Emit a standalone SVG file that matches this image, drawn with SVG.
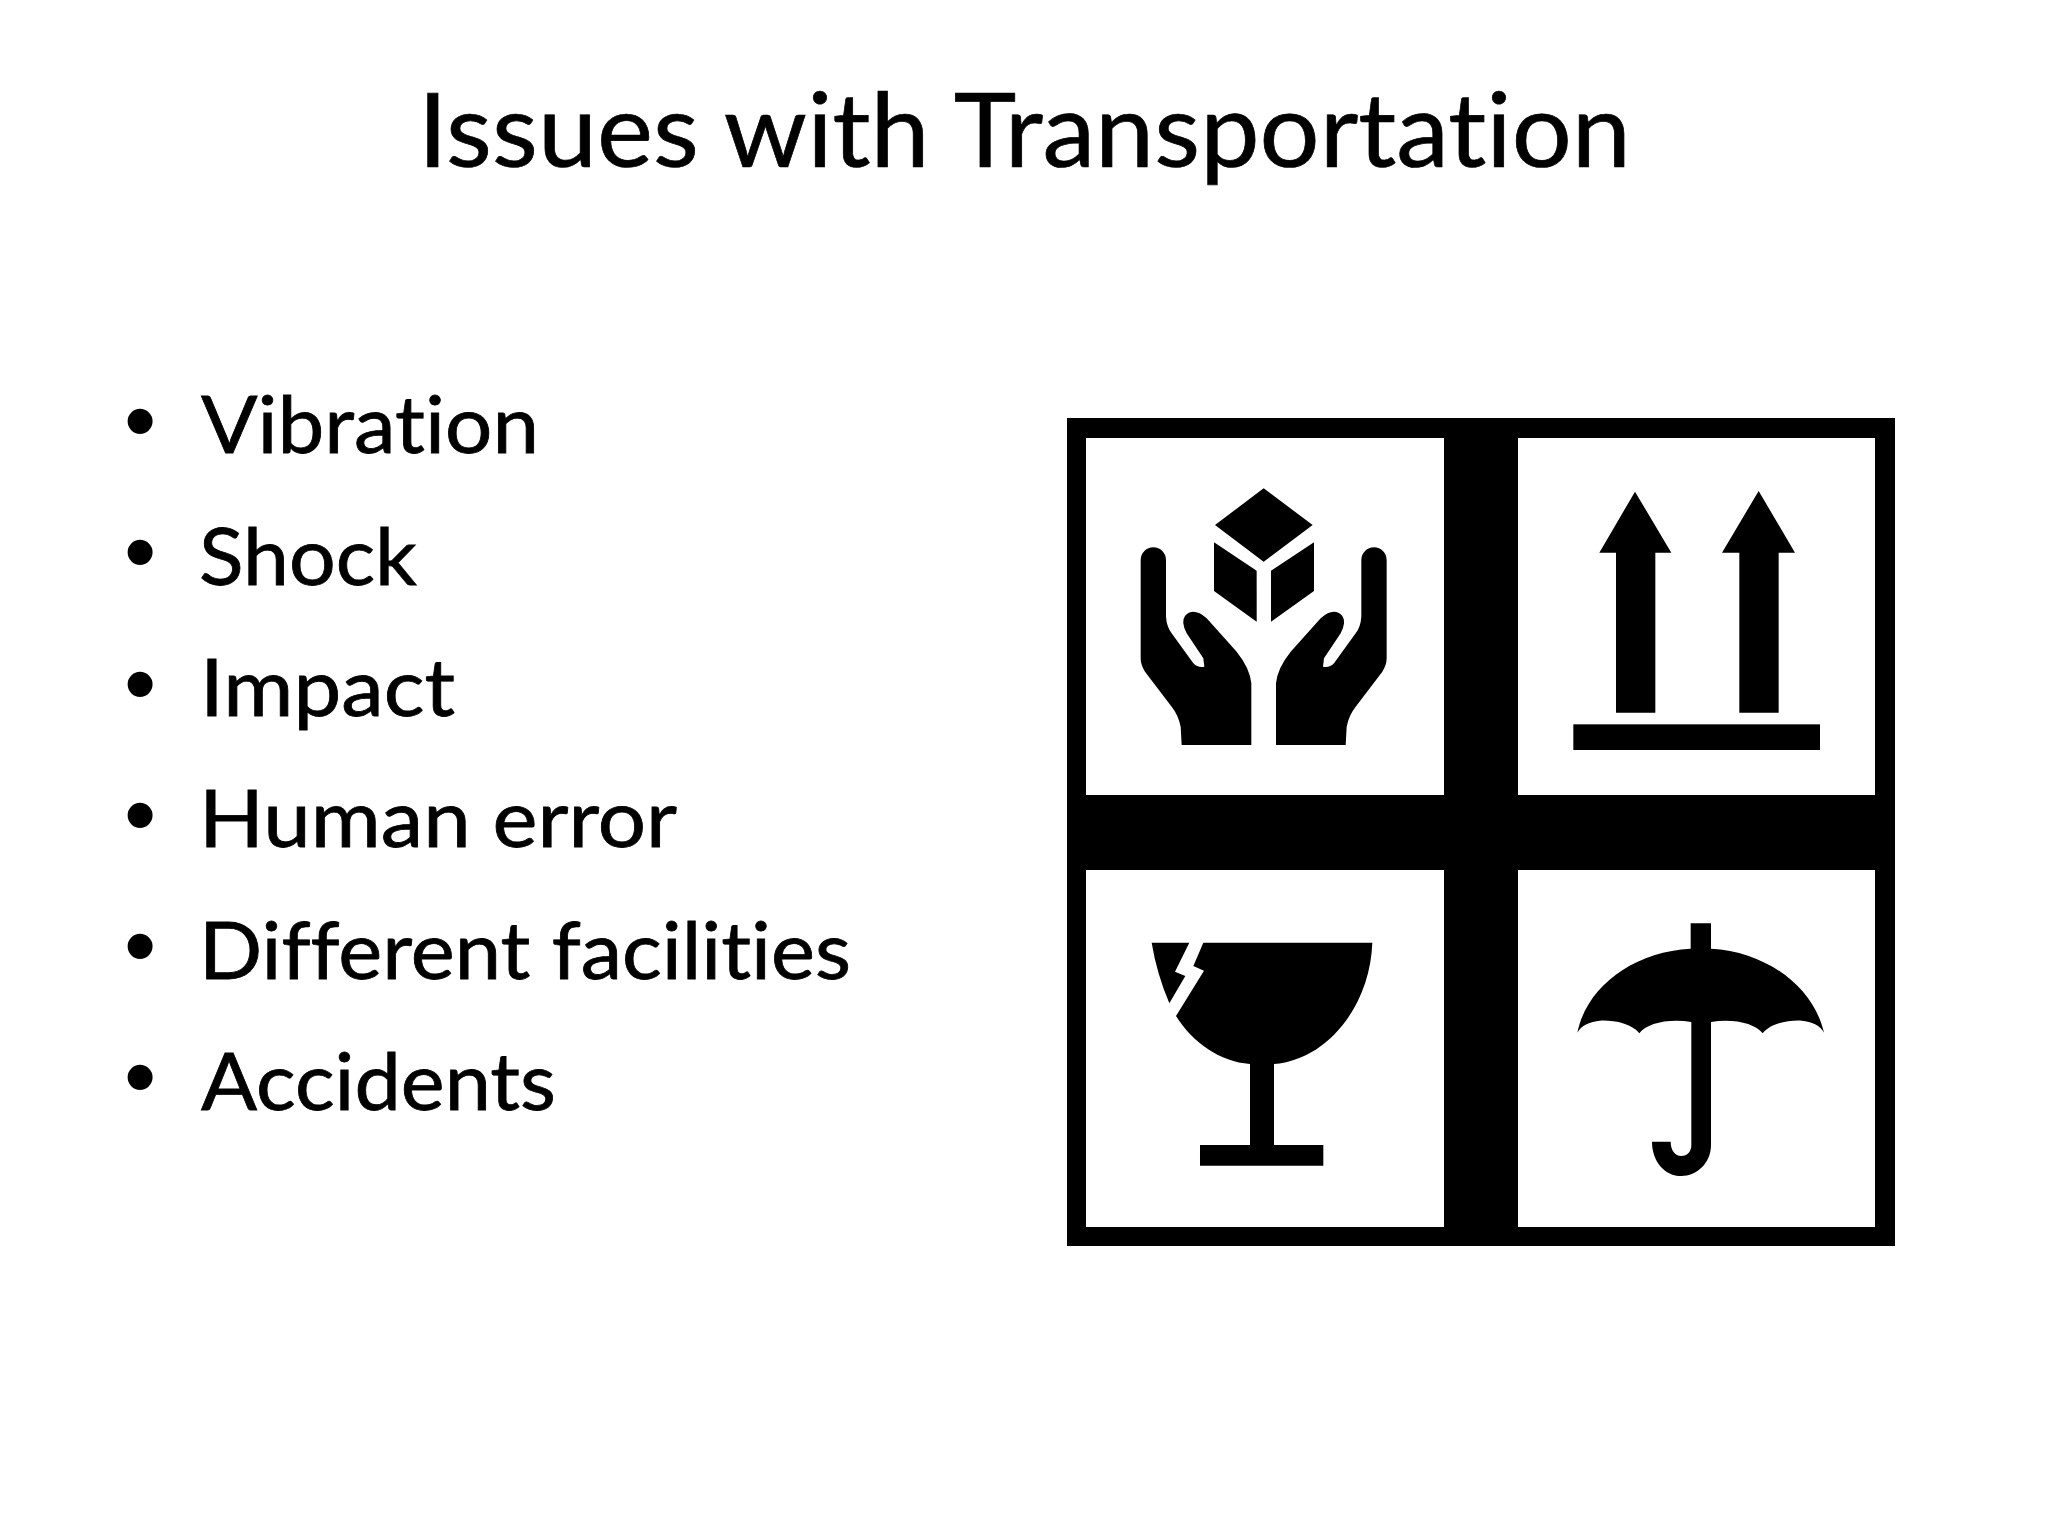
<svg xmlns="http://www.w3.org/2000/svg" width="2048" height="1536" viewBox="0 0 2048 1536">
<style>
.title{font-family:"Lato","Liberation Sans",sans-serif;font-size:102px;fill:#000;stroke:#000;stroke-width:.7;font-variant-ligatures:none}
.item{font-family:"Lato","Liberation Sans",sans-serif;font-size:80px;fill:#000;stroke:#000;stroke-width:.8;font-variant-ligatures:none}
.bullet{font-family:"Liberation Sans",Arial,sans-serif;font-size:92px;fill:#000;text-anchor:middle}
.panel{fill:#fff}
</style>
<rect width="2048" height="1536" fill="#fff"/>
<text id="title" class="title" x="418" y="167" textLength="1213" lengthAdjust="spacingAndGlyphs">Issues with Transportation</text>
<g id="list">
<text class="bullet" x="140" y="452">•</text><text class="item" x="201" y="453" textLength="338" lengthAdjust="spacingAndGlyphs">Vibration</text>
<text class="bullet" x="140" y="583">•</text><text class="item" x="199" y="585" textLength="218" lengthAdjust="spacingAndGlyphs">Shock</text>
<text class="bullet" x="140" y="715">•</text><text class="item" x="200" y="716" textLength="255" lengthAdjust="spacingAndGlyphs">Impact</text>
<text class="bullet" x="140" y="846">•</text><text class="item" x="199" y="847" textLength="478" lengthAdjust="spacingAndGlyphs">Human error</text>
<text class="bullet" x="140" y="977">•</text><text class="item" x="199" y="979" textLength="652" lengthAdjust="spacingAndGlyphs">Different facilities</text>
<text class="bullet" x="140" y="1108">•</text><text class="item" x="201" y="1110" textLength="355" lengthAdjust="spacingAndGlyphs">Accidents</text>
</g>
<g id="frame">
<rect x="1067" y="418" width="828" height="828" fill="#000"/>
<rect class="panel" x="1086" y="438" width="358" height="357"/>
<rect class="panel" x="1518" y="438" width="357" height="357"/>
<rect class="panel" x="1086" y="870" width="358" height="357"/>
<rect class="panel" x="1518" y="870" width="357" height="357"/>
</g>
<g id="handle-with-care" transform="translate(1060 410) scale(.33333)">
<path d="M611 235L758 345L611 455L465 345Z"/>
<path d="M462 397L590 482V635L462 543Z"/>
<path d="M633 482L762 397V543L633 635Z"/>
<path d="M242 450A38 38 0 0 1 318 450V620Q320 650 335 670L400 760Q415 775 433 770L430 745L380 670Q362 635 375 618Q400 590 440 625L530 725Q570 775 574 820V1005H365L362 950Q355 915 335 890L255 785Q242 765 242 745Z"/>
<path d="M980 450A38 38 0 0 0 904 450V620Q902 650 887 670L822 760Q807 775 789 770L792 745L842 670Q860 635 847 618Q822 590 782 625L692 725Q652 775 648 820V1005H857L860 950Q867 915 887 890L967 785Q980 765 980 745Z"/>
</g>
<g id="this-way-up" transform="translate(1500 410) scale(.33333)">
<path d="M405 245L514 428H466V908H348V428H298Z"/>
<path d="M776 243L885 428H836V908H718V428H666Z"/>
<rect x="220" y="943" width="740" height="77"/>
</g>
<g id="fragile" transform="translate(1060 840) scale(.33333)">
<path d="M430 308H937C930 500 800 660 642 672V915H790V977H420V915H570V672C480 665 400 610 348 528L432 392L400 378Z"/>
<path d="M275 308H388L345 395L376 408L328 490Q290 400 275 308Z"/>
</g>
<g id="keep-dry" transform="translate(1500 840) scale(.33333)">
<path d="M572 250H633V326C800 335 940 440 972 578C960 555 935 545 905 542C865 540 810 550 788 580C765 550 700 535 633 546V915C633 970 590 1008 544 1008C495 1008 456 965 456 905H512C512 930 525 948 544 948C562 948 574 935 574 915V546C505 535 440 550 418 580C395 550 340 540 300 542C270 545 245 555 232 578C260 440 400 335 572 326Z"/>
</g>
</svg>
